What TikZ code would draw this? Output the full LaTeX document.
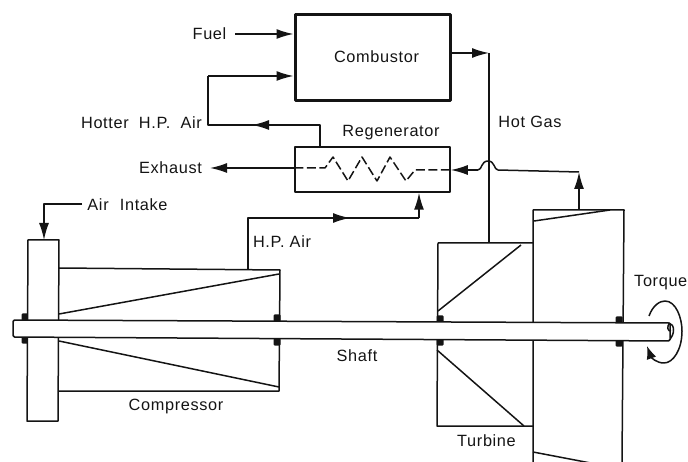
\documentclass[tikz,border=0pt]{standalone}
\usepackage{fontspec}
\setmainfont[LetterSpace=4]{Liberation Sans}
\usetikzlibrary{arrows.meta}
\definecolor{ink}{gray}{0.08}
\tikzset{
  x=1pt,y=-1pt,
  line/.style={draw=ink,line width=1.5pt,line join=round},
  flow/.style={line,-{Latex[length=17pt,width=10pt]}},
  label/.style={text=ink,font=\fontsize{16.3}{18}\selectfont,inner sep=0pt,anchor=center},
  vessel/.style={line,inner sep=0pt,anchor=center,fill=white},
  pad/.style={fill=ink,minimum width=7pt,minimum height=7pt,inner sep=0pt,rounded corners=1pt},
}
\begin{document}
\begin{tikzpicture}
\useasboundingbox (0,0) rectangle (688,462);
\clip (0,0) rectangle (688,462);
% pads
\foreach \n/\px/\py in {p1/25/317,p2/25/340,p3/277/318,p4/277/342,p5/440/319,p6/440/342,p7/619/320,p8/619/343}
  \node[pad] (\n) at (\px,\py) {};
% compressor
\draw[line] (59,268) coordinate (cta) -- (280,270) coordinate (ctb) -- (279,391) coordinate (cbb) -- (59,391) coordinate (cba);
\draw[line] (59,314) coordinate (b1a) -- (279,274) coordinate (b1b);
\draw[line] (59,341) coordinate (b2a) -- (279,387) coordinate (b2b);
\draw[line,fill=white] (28,240) coordinate (in) -- (59,240) -- (58,421) -- (27,421) -- cycle;
% turbine stage 1
\draw[line] (533,243) -- (438,243) coordinate (t1) -- (437,426) -- (533,426);
\draw[line] (438,311) -- (521,245);
\draw[line] (437,350) -- (524,426);
% turbine stage 2
\draw[line] (533,462) -- (533,210) -- (624,210) coordinate (t2) -- (622,462);
\draw[line] (534,221) -- (610,210);
\draw[line] (533,452) -- (622,469);
\coordinate (t2out) at (579,210);
% torque curl (behind shaft end)
\draw[line] (669,323) .. controls (675,324) and (675,335) .. (669,340);
% shaft
\draw[line,fill=white,rounded corners=1.5pt] (13,320) -- (670,323) -- (670,341) -- (13,337) -- cycle;
\draw[line] (670,323) .. controls (666,326) and (668,332) .. (671,331);
\draw[line,-{Latex[length=13pt,width=10pt]}] (649,316) .. controls (653,305) and (660,301) .. (665,301)
  .. controls (676,301) and (682,318) .. (682,331)
  .. controls (682,350) and (673,363) .. (664,363)
  .. controls (656,363) and (651,357) .. (647,346);
% combustor and regenerator
\node[vessel,line width=3pt,minimum width=155pt,minimum height=86pt] (comb) at (372.5,58) {};
\node[label] at (376.5,57) {Combustor};
\node[vessel,minimum width=155pt,minimum height=45pt] (regen) at (372.5,169.5) {};
% fuel
\coordinate (fuelstart) at (235,34);
\draw[flow] (fuelstart) -- (comb.west |- fuelstart);
% hotter air
\coordinate (rgout) at (320,125);
\coordinate (c1) at (208,125);
\coordinate (c2) at (208,76);
\coordinate (mid1) at (252,125);
\draw[line] (regen.north -| rgout) -- (rgout) -- (mid1);
\draw[flow] (rgout) -- (mid1);
\draw[line] (mid1) -- (c1) -- (c2);
\draw[flow] (c2) -- (comb.west |- c2);
% exhaust
\coordinate (exh) at (210,168);
\draw[flow] (regen.west |- exh) -- (exh);
% heat exchanger zig-zag
\draw[draw=ink,line width=1.5pt,dash pattern=on 9pt off 3.5pt,line join=round]
  (regen.west |- exh) -- (325,168) -- (333,157) -- (348,181) -- (362,157) -- (377,181) -- (390,157) -- (406,181) -- (415,170) -- (regen.east |- 0,170);
% hot gas
\coordinate (hg1) at (489,53);
\coordinate (hg2) at (489,243);
\draw[flow] (comb.east |- hg1) -- (hg1);
\draw[line] (hg1) -- (hg2);
% exhaust gas with hump
\coordinate (up) at (579,172);
\coordinate (hump1) at (498,170);
\coordinate (hump2) at (478,170);
\draw[flow] (t2out) -- (up);
\draw[line] (up) -- (hump1) .. controls (494,170) and (495,161) .. (488,161) .. controls (481,161) and (482,170) .. (hump2);
\draw[flow] (hump2) -- (regen.east |- hump2);
% HP air
\coordinate (ha1) at (248,269);
\coordinate (ha2) at (248,218);
\coordinate (ha3) at (419,218);
\coordinate (mid3) at (350,218);
\draw[line] (ha1) -- (ha2) -- (ha3);
\draw[flow] (ha2) -- (mid3);
\draw[flow] (ha3) -- (regen.south -| ha3);
% air intake
\coordinate (ai1) at (82,204);
\coordinate (ai2) at (44,204);
\draw[flow] (ai1) -- (ai2) -- (in -| ai2);
% labels
\node[label] (lfuel) at (209.5,34) {Fuel};
\node[label] (lhot) at (141.5,123) {Hotter\hspace{5pt} H.P.\hspace{5pt} Air};
\node[label] (lreg) at (391,133) {Regenerator};
\node[label] (lgas) at (530,122) {Hot Gas};
\node[label] (lexh) at (170.5,168) {Exhaust};
\node[label] (lint) at (127.5,205) {Air\hspace{6pt} Intake};
\node[label] (lhp) at (282,242) {H.P. Air};
\node[label] (lsh) at (357,356) {Shaft};
\node[label] (lcp) at (176,406) {Compressor};
\node[label] (ltb) at (486.5,441) {Turbine};
\node[label,anchor=west] (ltq) at (634,283) {Torque};
\end{tikzpicture}
\end{document}
